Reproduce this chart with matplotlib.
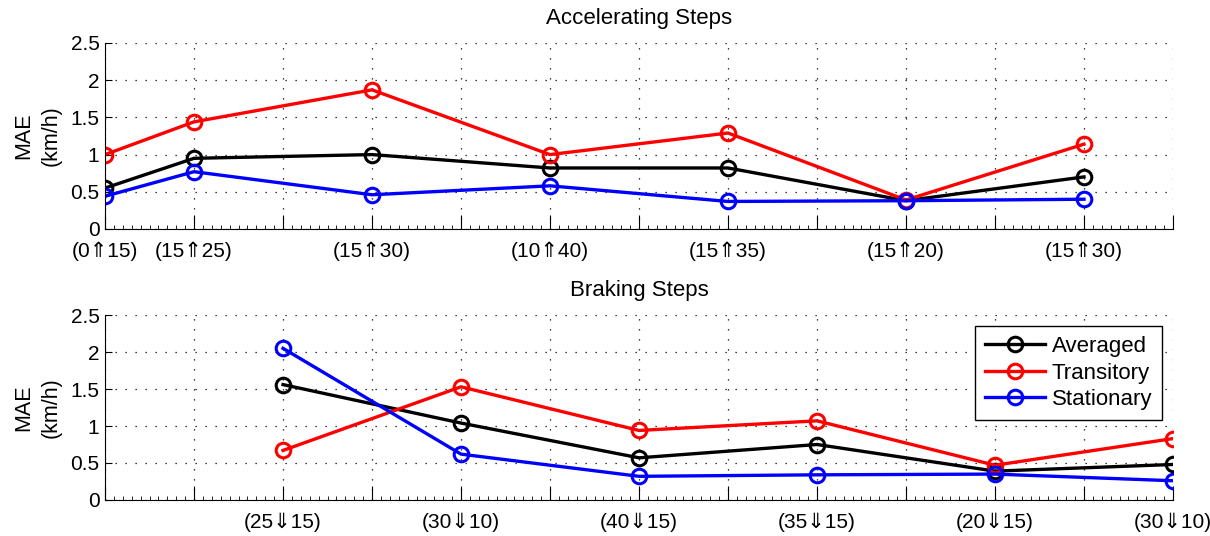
import matplotlib
matplotlib.use("Agg")
from matplotlib import pyplot as plt
from matplotlib.ticker import AutoMinorLocator

plt.rcParams['font.family'] = ['Liberation Sans', 'DejaVu Sans']
plt.rcParams['font.size'] = 15

# accelerating steps (x positions on the shared 0..12 grid)
accel_x = [0, 1, 3, 5, 7, 9, 11]
accel_labels = ['(0⇑15)', '(15⇑25)', '(15⇑30)', '(10⇑40)', '(15⇑35)', '(15⇑20)', '(15⇑30)']
accel_avg = [0.55, 0.95, 1.0, 0.82, 0.82, 0.38, 0.70]
accel_trans = [1.0, 1.44, 1.87, 1.0, 1.29, 0.39, 1.14]
accel_stat = [0.44, 0.77, 0.46, 0.58, 0.37, 0.38, 0.40]

# braking steps
brake_x = [2, 4, 6, 8, 10, 12]
brake_labels = ['(25⇓15)', '(30⇓10)', '(40⇓15)', '(35⇓15)', '(20⇓15)', '(30⇓10)']
brake_avg = [1.56, 1.04, 0.57, 0.75, 0.39, 0.48]
brake_trans = [0.67, 1.53, 0.94, 1.07, 0.47, 0.83]
brake_stat = [2.05, 0.62, 0.32, 0.34, 0.35, 0.26]

series_names = ['Averaged', 'Transitory', 'Stationary']
colors = ['black', 'red', 'blue']


def drawPanel(ax, x, ys, labels, title):
    for y, c, name in zip(ys, colors, series_names):
        ax.plot(x, y, '-o', color=c, lw=2.4, ms=10.5, mfc='none', mew=2.2, label=name)
    ax.set_xlim(0, 12)
    ax.set_ylim(0, 2.5)
    ticklabels = [''] * 13
    for xi, lab in zip(x, labels):
        ticklabels[xi] = lab
    ax.set_xticks(range(13))
    ax.set_xticklabels(ticklabels)
    ax.set_yticks([0, 0.5, 1, 1.5, 2, 2.5])
    ax.set_yticklabels(['0', '0.5', '1', '1.5', '2', '2.5'])
    ax.xaxis.set_minor_locator(AutoMinorLocator(10))
    ax.tick_params(axis='x', which='major', direction='in', length=10, width=0.8, pad=9)
    ax.tick_params(axis='x', which='minor', direction='in', length=3, width=0.6)
    ax.tick_params(axis='y', which='major', direction='in', length=5, width=0.8, pad=4)
    ax.grid(True, which='major', linestyle=(0, (1, 7)), color='black', lw=0.9)
    ax.spines['top'].set_visible(False)
    ax.spines['right'].set_visible(False)
    ax.set_title(title, fontsize=16, pad=14)
    ax.set_ylabel('MAE\n(km/h)', fontsize=15.5, linespacing=1.45, labelpad=6)


fig = plt.figure(figsize=(12.1, 5.36), dpi=100)
ax1 = fig.add_axes([0.0868, 0.5728, 0.8826, 0.347])
ax2 = fig.add_axes([0.0868, 0.0672, 0.8826, 0.345])

drawPanel(ax1, accel_x, [accel_avg, accel_trans, accel_stat], accel_labels, 'Accelerating Steps')
drawPanel(ax2, brake_x, [brake_avg, brake_trans, brake_stat], brake_labels, 'Braking Steps')

leg = ax2.legend(loc='upper right', bbox_to_anchor=(0.9897, 0.94), borderaxespad=0,
                 fancybox=False, edgecolor='black', framealpha=1, handlelength=2.7,
                 labelspacing=0.25, borderpad=0.45, handletextpad=0.3, fontsize=16)
leg.get_frame().set_linewidth(1.0)

fig.savefig("out.png", dpi=100)
